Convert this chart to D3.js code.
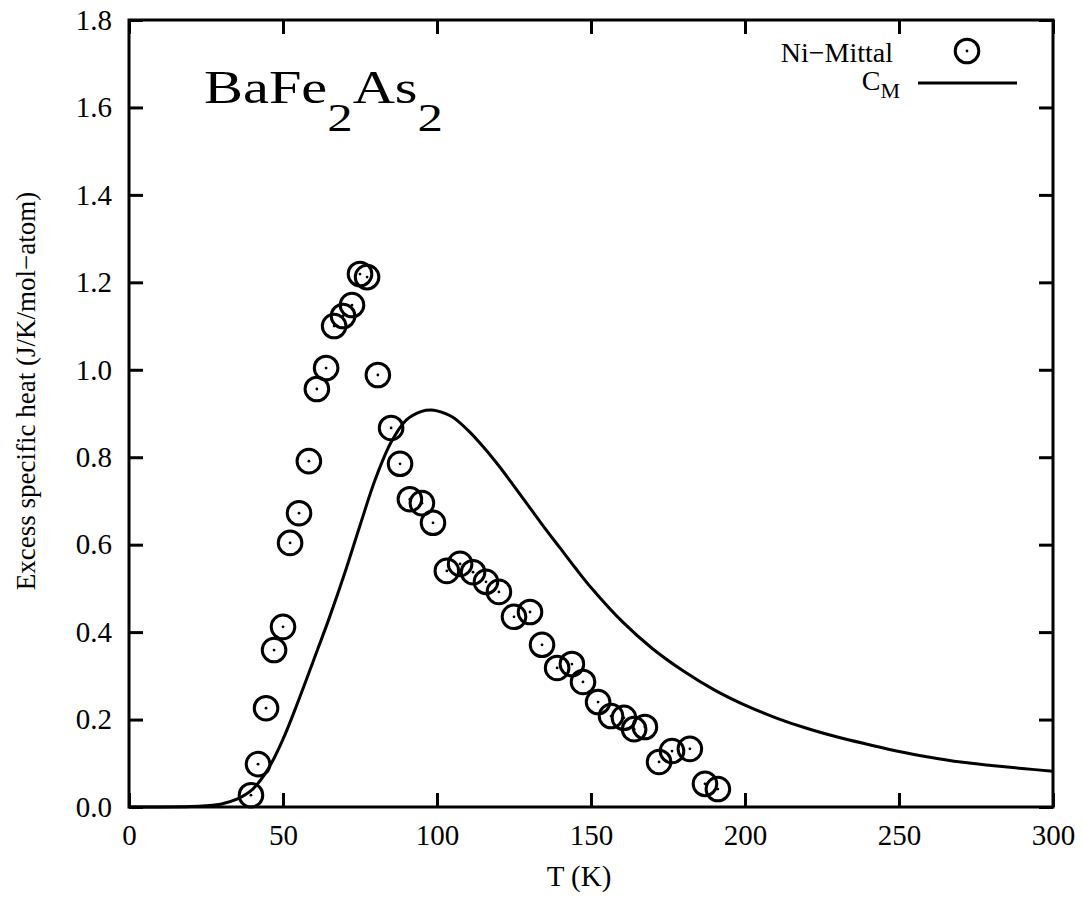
<!DOCTYPE html>
<html>
<head>
<meta charset="utf-8">
<script src="https://cdn.jsdelivr.net/npm/d3@7"></script>
<style>
  html, body { margin: 0; padding: 0; background: #fff; }
  svg { display: block; }
</style>
</head>
<body>
<svg id="chart" width="1083" height="905"></svg>
<script>
// ---- data ----
const niMittalT = [39.6, 41.9, 44.5, 47.1, 50.0, 52.3, 55.2, 58.4, 61.0, 64.0, 66.6, 69.5, 72.4, 75.0, 77.3,
  80.8, 85.1, 88.0, 91.2, 95.1, 98.7, 103.2, 107.5, 111.7, 115.9, 120.1, 125.0, 130.2, 134.1, 139.0,
  143.8, 147.4, 152.3, 156.5, 160.7, 164.0, 167.5, 172.1, 176.3, 182.1, 187.0, 191.2];
const niMittalC = [0.027, 0.098, 0.226, 0.359, 0.412, 0.604, 0.672, 0.791, 0.956, 1.004, 1.100, 1.123, 1.148, 1.219, 1.212,
  0.988, 0.867, 0.785, 0.704, 0.695, 0.650, 0.540, 0.556, 0.537, 0.515, 0.492, 0.435, 0.446, 0.371, 0.318,
  0.327, 0.286, 0.240, 0.208, 0.204, 0.178, 0.183, 0.103, 0.128, 0.133, 0.053, 0.041];

const cmT = [0, 10, 20, 25, 30, 35, 40, 45, 50, 55, 60, 65, 70, 75, 80, 85, 90, 95, 98,
  100, 105, 110, 115, 120, 125, 130, 135, 140, 145, 150, 160, 170, 180, 190, 200, 210, 220, 230, 240,
  250, 260, 270, 280, 290, 300];
const cmC = [0, 0, 0.001, 0.003, 0.007, 0.018, 0.04, 0.085, 0.155, 0.243, 0.337, 0.432, 0.534, 0.644, 0.75, 0.833,
  0.885, 0.905, 0.908, 0.906, 0.892, 0.862, 0.824, 0.781, 0.734, 0.686, 0.638, 0.592, 0.546, 0.502, 0.425,
  0.362, 0.311, 0.268, 0.233, 0.204, 0.18, 0.16, 0.143, 0.127, 0.114, 0.103, 0.095, 0.088, 0.082];

const xTicks = [0, 50, 100, 150, 200, 250, 300];
const yTicks = [0, 0.2, 0.4, 0.6, 0.8, 1.0, 1.2, 1.4, 1.6, 1.8];

// ---- layout ----
const FONT = "'Liberation Serif', 'Times New Roman', 'DejaVu Serif', serif";
const svg = d3.select("#chart");
const L = 129, R = 1053, T = 20, B = 807;
const x = d3.scaleLinear().domain([0, 300]).range([L, R]);
const y = d3.scaleLinear().domain([0, 1.8]).range([B, T]);
const tickLen = 14, fs = 29;

// curve
svg.append("path")
  .datum(cmT.map((t, i) => [t, cmC[i]]))
  .attr("fill", "none").attr("stroke", "#000").attr("stroke-width", 3)
  .attr("d", d3.line().x(d => x(d[0])).y(d => y(d[1])).curve(d3.curveCatmullRom.alpha(0.5)));

// points
const pts = svg.append("g");
niMittalT.forEach((t, i) => {
  const g = pts.append("g").attr("transform", `translate(${x(t)},${y(niMittalC[i])})`);
  g.append("circle").attr("r", 11.8).attr("fill", "none").attr("stroke", "#000").attr("stroke-width", 3);
  g.append("circle").attr("r", 1.4).attr("fill", "#000");
});

// axes (ticks inward, on all sides)
const axB = d3.axisBottom(x).tickValues(xTicks).tickSize(-tickLen).tickFormat(d3.format("d")).tickPadding(17);
const axT = d3.axisTop(x).tickValues(xTicks).tickSize(-tickLen).tickFormat("");
const axL = d3.axisLeft(y).tickValues(yTicks).tickSize(-tickLen).tickFormat(d3.format(".1f")).tickPadding(17);
const axR = d3.axisRight(y).tickValues(yTicks).tickSize(-tickLen).tickFormat("");

function style(g) {
  g.attr("font-family", null).attr("font-size", null);
  g.select(".domain").remove();
  g.selectAll(".tick line").attr("stroke", "#000").attr("stroke-width", 3);
  g.selectAll(".tick text").style("font-family", FONT).style("font-size", fs + "px").attr("fill", "#000");
}
svg.append("g").attr("transform", `translate(0,${B})`).call(axB).call(style);
svg.append("g").attr("transform", `translate(0,${T})`).call(axT).call(style);
svg.append("g").attr("transform", `translate(${L},0)`).call(axL).call(style);
svg.append("g").attr("transform", `translate(${R},0)`).call(axR).call(style);

// frame
svg.append("rect").attr("x", L).attr("y", T).attr("width", R - L).attr("height", B - T)
  .attr("fill", "none").attr("stroke", "#000").attr("stroke-width", 3);

function txt(sel, size) {
  return sel.style("font-family", FONT).style("font-size", size + "px").attr("fill", "#000");
}

// axis titles
txt(svg.append("text"), 29).attr("x", 579).attr("y", 886).attr("text-anchor", "middle").text("T (K)");
txt(svg.append("text"), 27).attr("transform", "translate(35,391) rotate(-90)").attr("text-anchor", "middle")
  .text("Excess specific heat (J/K/mol\u2212atom)");

// title
const title = txt(svg.append("text"), 46).attr("transform", "translate(204,103) scale(1.27,1)");
title.append("tspan").text("BaFe");
title.append("tspan").attr("dy", 28).style("font-size", "40px").text("2");
title.append("tspan").attr("dy", -28).text("As");
title.append("tspan").attr("dy", 28).style("font-size", "40px").text("2");

// legend
txt(svg.append("text"), 28).attr("x", 893).attr("y", 62).attr("text-anchor", "end").text("Ni\u2212Mittal");
const lg = svg.append("g").attr("transform", "translate(967,51)");
lg.append("circle").attr("r", 11.8).attr("fill", "none").attr("stroke", "#000").attr("stroke-width", 3);
lg.append("circle").attr("r", 1.4).attr("fill", "#000");
const cm = txt(svg.append("text"), 28).attr("x", 900).attr("y", 90).attr("text-anchor", "end");
cm.append("tspan").text("C");
cm.append("tspan").attr("dy", 8).style("font-size", "22px").text("M");
svg.append("line").attr("x1", 918).attr("x2", 1017).attr("y1", 83).attr("y2", 83)
  .attr("stroke", "#000").attr("stroke-width", 3);
</script>
</body>
</html>
